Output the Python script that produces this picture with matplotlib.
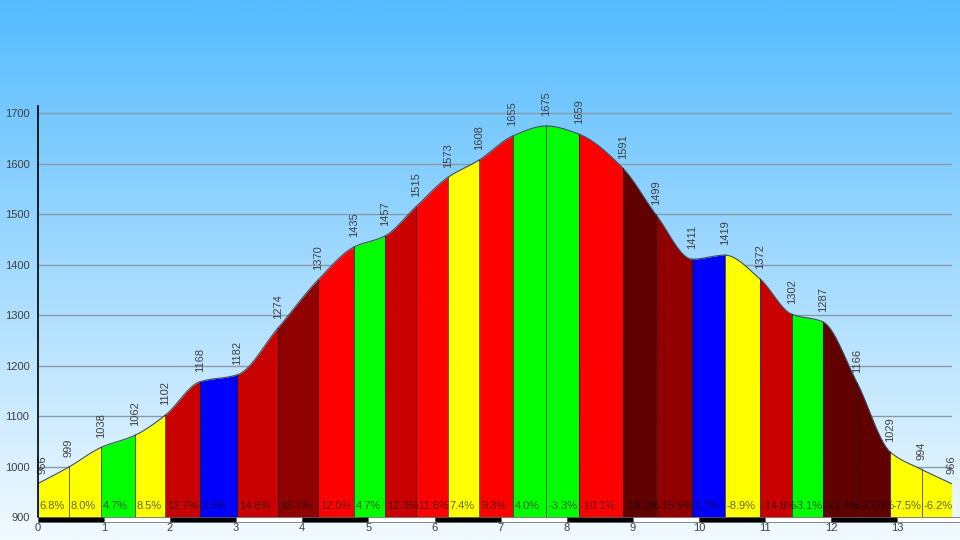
import numpy as np
import matplotlib

matplotlib.use("Agg")

import matplotlib.pyplot as plt
from matplotlib.patches import Rectangle

plt.rcParams["font.family"] = ["Liberation Sans", "DejaVu Sans"]

# distance along route (km) and elevation (m) at each marker
dist = [0, 0.47, 0.96, 1.47, 1.93, 2.45, 3.02, 3.63, 4.24, 4.78, 5.25, 5.72,
        6.20, 6.68, 7.18, 7.69, 8.18, 8.85, 9.35, 9.90, 10.39, 10.92, 11.40,
        11.87, 12.39, 12.89, 13.37, 13.82]
elev = [966, 999, 1038, 1062, 1102, 1168, 1182, 1274, 1370, 1435, 1457, 1515,
        1573, 1608, 1655, 1675, 1659, 1591, 1499, 1411, 1419, 1372, 1302,
        1287, 1166, 1029, 994, 966]
# gradient label per segment (%)
grades = [6.8, 8.0, 4.7, 8.5, 12.7, 2.5, 14.8, 16.1, 12.0, 4.7, 12.3, 11.8,
          7.4, 9.3, 4.0, -3.3, -10.1, -18.3, -15.6, 1.7, -8.9, -14.8, -3.1,
          -23.4, -27.0, -7.5, -6.2]
km_ticks = list(range(0, 14))
elev_ticks = list(range(900, 1701, 100))


def grade_color(g):
    g = abs(g)
    if g < 3:
        return "#0000ff"
    if g < 6:
        return "#00ff00"
    if g < 9:
        return "#ffff00"
    if g < 12.2:
        return "#ff0000"
    if g < 15:
        return "#c80000"
    if g < 18:
        return "#900000"
    return "#600000"


def pchip(x, y, n=40):
    x = np.asarray(x, float)
    y = np.asarray(y, float)
    h = np.diff(x)
    d = np.diff(y) / h
    m = np.zeros_like(y)
    m[0], m[-1] = d[0], d[-1]
    for i in range(1, len(y) - 1):
        if d[i - 1] * d[i] > 0:
            w1 = 2 * h[i] + h[i - 1]
            w2 = h[i] + 2 * h[i - 1]
            m[i] = (w1 + w2) / (w1 / d[i - 1] + w2 / d[i])
    segs = []
    for i in range(len(h)):
        t = np.linspace(0, 1, n)
        h00 = 2 * t**3 - 3 * t**2 + 1
        h10 = t**3 - 2 * t**2 + t
        h01 = -2 * t**3 + 3 * t**2
        h11 = t**3 - t**2
        xs = x[i] + t * h[i]
        ys = h00 * y[i] + h10 * h[i] * m[i] + h01 * y[i + 1] + h11 * h[i] * m[i + 1]
        segs.append((xs, ys))
    return segs


fig = plt.figure(figsize=(9.6, 5.4), dpi=100)

# sky gradient background
bg = fig.add_axes([0, 0, 1, 1], zorder=-10)
top = np.array([85, 187, 255]) / 255
bot = np.array([242, 250, 255]) / 255
t = np.linspace(0, 1, 256)[:, None]
grad = top * (1 - t) + bot * t
bg.imshow(grad[:, None, :], aspect="auto", extent=[0, 1, 0, 1])
bg.axis("off")

ax = fig.add_axes([0.0393, 0.0426, 0.952, 0.7615])
ax.patch.set_alpha(0)
for s in ax.spines.values():
    s.set_visible(False)

ax.set_xlim(0, 13.82)
ax.set_ylim(900, 1715)

for yv in elev_ticks[1:]:
    ax.axhline(yv, color="#8a9aa8", lw=1, zorder=1)

segs = pchip(dist, elev)
for (xs, ys), g in zip(segs, grades):
    ax.fill_between(xs, 900, ys, color=grade_color(g), lw=0, zorder=2)
    ax.plot(xs, ys, color="#405060", lw=0.8, zorder=3)
    ax.plot([xs[0], xs[0]], [900, ys[0]], color="black", lw=0.7, alpha=0.6, zorder=3)
    ax.text(xs[0] + 0.03, 912, "%.1f%%" % g, fontsize=8, color="black",
            alpha=0.6, va="bottom", ha="left", zorder=4)
ax.plot([dist[-1], dist[-1]], [900, elev[-1]], color="black", lw=0.7, alpha=0.6, zorder=3)

for i, (x, y) in enumerate(zip(dist, elev)):
    dx = 0.07 if i == 0 else 0
    ax.annotate(str(y), (x + dx, y), xytext=(0, 7), textcoords="offset points",
                rotation=90, ha="center", va="bottom", fontsize=8,
                color="#404040", zorder=5)

ax.plot([0, 0], [900, 1715], color="black", lw=1.2, zorder=6, clip_on=False)

# alternating km scale bar
tr = ax.get_xaxis_transform()
for k in range(14):
    w = min(1, dist[-1] + 0.12 - k)
    fc = "black" if k % 2 == 0 else "white"
    ax.add_patch(Rectangle((k, -0.011), w, 0.011, transform=tr, facecolor=fc,
                           edgecolor="#555555", lw=0.5, clip_on=False, zorder=6))

ax.set_xticks(km_ticks)
ax.set_xticklabels([str(k) for k in km_ticks])
ax.set_yticks(elev_ticks)
ax.tick_params(axis="both", length=0, labelsize=8, labelcolor="#404040")
ax.tick_params(axis="x", pad=4)
ax.tick_params(axis="y", pad=6)

fig.savefig("out.png", dpi=100)
